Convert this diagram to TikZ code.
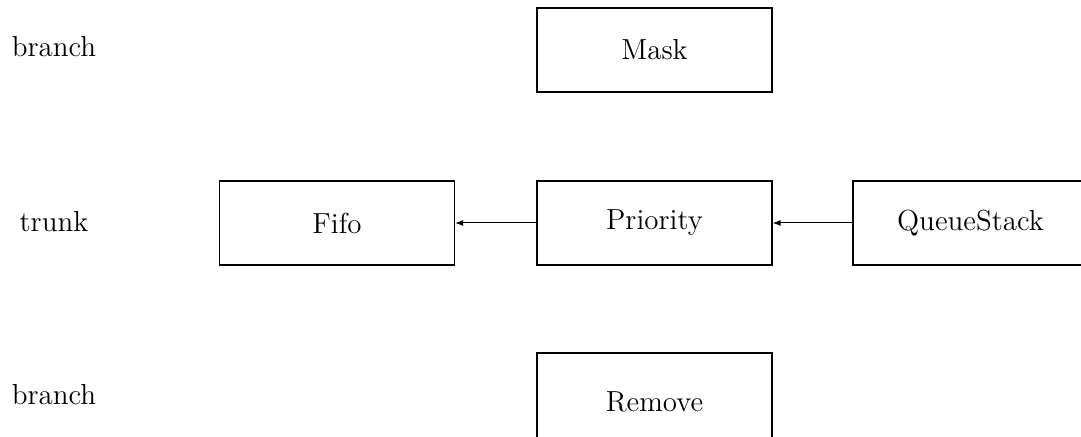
\documentclass[tikz,border=0pt]{standalone}
\usetikzlibrary{arrows.meta}
\begin{document}
\begin{tikzpicture}[x=0.5pt,y=-0.5pt,
  box/.style={draw,line width=0.6pt,minimum width=117.5pt,minimum height=42pt,inner sep=0pt,font=\fontsize{14.5}{17}\selectfont},
  lbl/.style={inner sep=0pt,font=\fontsize{14.5}{17}\selectfont},
  conn/.style={line width=0.5pt,-{Latex[length=4pt,width=3pt]}}]
\useasboundingbox (0,0) rectangle (1081,437);
\clip (0,0) rectangle (1081,437);
\node[box] (mask) at (654.5,50) {Mask};
\node[box] (fifo) at (337,223) {Fifo};
\node[box] (prio) at (654.5,223) {Priority};
\node[box] (qs) at (970.5,223) {QueueStack};
\node[box,minimum height=49pt] (rem) at (654.5,402) {Remove};
\node[lbl] (b1) at (54,47) {branch};
\node[lbl] (tr) at (54,222) {trunk};
\node[lbl] (b2) at (54,395) {branch};
\draw[conn] (prio) -- (fifo);
\draw[conn] (qs) -- (prio);
\end{tikzpicture}
\end{document}
